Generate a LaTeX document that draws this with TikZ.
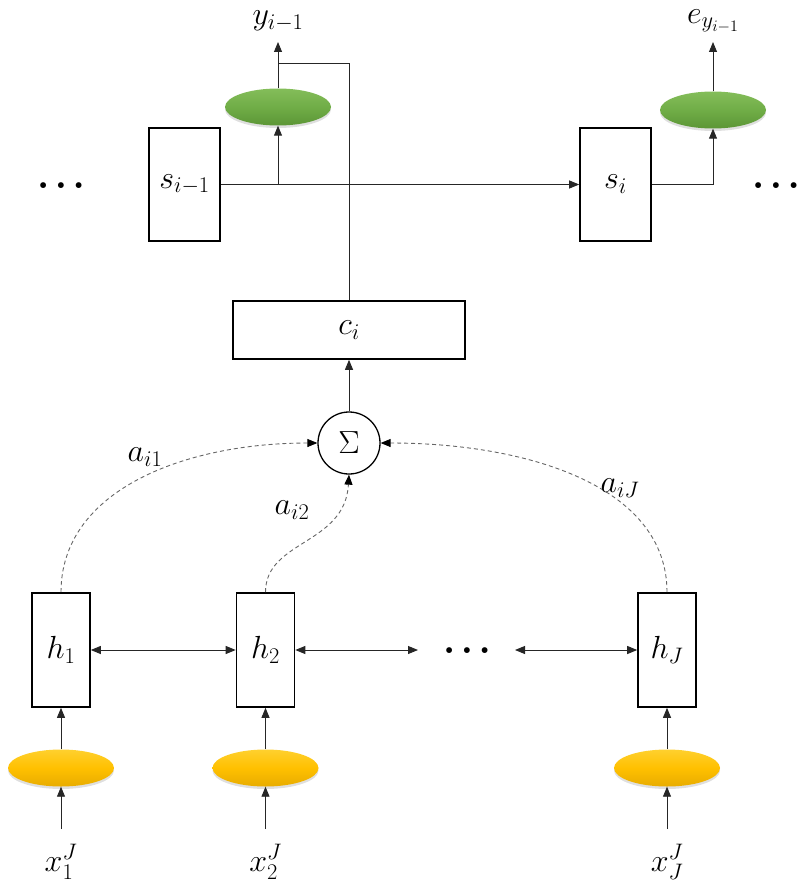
\RequirePackage{fix-cm}
\documentclass[tikz,border=0pt]{standalone}
\usetikzlibrary{arrows.meta,shapes.geometric,shadows}
\definecolor{gtop}{HTML}{84BD5A}
\definecolor{gmid}{HTML}{70AD47}
\definecolor{gbot}{HTML}{5C9636}
\definecolor{ytop}{HTML}{FFD02E}
\definecolor{ymid}{HTML}{FFC000}
\definecolor{ybot}{HTML}{E8AC00}
\begin{document}
\begin{tikzpicture}[x=1pt,y=-1pt,
  font=\fontsize{32}{36}\selectfont,
  box/.style={draw=black, line width=1.6pt, fill=white, inner sep=0pt},
  conn/.style={draw=black!85, line width=0.9pt},
  arr/.style={conn, -{Triangle[length=10pt,width=8pt]}},
  darr/.style={conn, {Triangle[length=10pt,width=8pt]}-{Triangle[length=10pt,width=8pt]}},
  dashconn/.style={draw=black!60, line width=0.9pt, dash pattern=on 4pt off 3pt, -{Triangle[length=10pt,width=8pt,color=black]}},
  ell/.style={ellipse, draw=none, minimum width=106pt, minimum height=37pt, drop shadow={shadow xshift=0pt, shadow yshift=-2.5pt, opacity=0.25}},
  greenell/.style={ell, top color=gtop, bottom color=gbot, middle color=gmid},
  yellowell/.style={ell, top color=ytop, bottom color=ybot, middle color=ymid},
  lab/.style={inner sep=0pt},
  dotsnode/.style={inner sep=0pt, font=\fontsize{26}{30}\selectfont},
]
\useasboundingbox (0,0) rectangle (801,890);

% decoder states
\node[box, minimum width=71pt, minimum height=113pt] (sprev) at (184.5,184.5) {$s_{i-1}$};
\node[box, minimum width=71pt, minimum height=113pt] (si) at (615.5,184.5) {$s_i$};
\node[greenell] (g1) at (278,107) {};
\node[greenell] (g2) at (713,110) {};
\node[lab] (ylab) at (278,21) {$y_{i-1}$};
\node[lab] (elab) at (713,21) {$e_{y_{i-1}}$};
\coordinate (yt) at (278,42);
\coordinate (et) at (713,42);
\coordinate (j1) at (278,185);
\coordinate (cturn) at (349,63);
\coordinate (cjoin) at (278,63);
\node[dotsnode] (dl) at (61,188) {\textbullet\hspace{-1pt}\textbullet\hspace{-1pt}\textbullet};
\node[dotsnode] (dr) at (776,188) {\textbullet\hspace{-1pt}\textbullet\hspace{-1pt}\textbullet};

% context
\node[box, minimum width=232pt, minimum height=58pt] (ci) at (349,330) {$c_i$};
\node[circle, draw=black, line width=1.3pt, fill=white, minimum size=62pt, inner sep=0pt] (sig) at (349,443) {$\Sigma$};

% encoder
\node[box, minimum width=58pt, minimum height=114pt] (h1) at (61,650) {$h_1$};
\node[box, minimum width=58pt, minimum height=114pt] (h2) at (265.5,650) {$h_2$};
\node[box, minimum width=58pt, minimum height=114pt] (hJ) at (667,650) {$h_J$};
\node[dotsnode] (dm) at (467,653) {\textbullet\hspace{-1pt}\textbullet\hspace{-1pt}\textbullet};
\coordinate (m1) at (418,650);
\coordinate (m2) at (515,650);

\node[yellowell] (x1e) at (61,768) {};
\node[yellowell] (x2e) at (265.5,768) {};
\node[yellowell] (xJe) at (667,768) {};
\coordinate (x1b) at (61,829);
\coordinate (x2b) at (265.5,829);
\coordinate (xJb) at (667,829);
\node[lab] (x1) at (61,862) {$x_1^J$};
\node[lab] (x2) at (265.5,862) {$x_2^J$};
\node[lab] (xJ) at (667,862) {$x_J^J$};

% connectors top
\draw[arr] (sprev.east) -- (si.west);
\draw[arr] (j1) -- (g1.south);
\draw[arr] (g1.north) -- (yt);
\draw[conn] (ci.north) -- (cturn) -- (cjoin);
\draw[arr] (si.east) -| (g2.south);
\draw[arr] (g2.north) -- (et);
\draw[arr] (sig.north) -- (ci.south);

% attention
\draw[dashconn] (h1.north) .. controls (61,490) and (185,443) .. (sig.west);
\draw[dashconn] (h2.north) .. controls (265.5,540) and (345,545) .. (sig.south);
\draw[dashconn] (hJ.north) .. controls (667,485) and (525,443) .. (sig.east);
\node[lab] (a1) at (145,457) {$a_{i1}$};
\node[lab] (a2) at (292,510) {$a_{i2}$};
\node[lab] (aJ) at (620,488) {$a_{iJ}$};

% encoder links
\draw[darr] (h1.east) -- (h2.west);
\draw[darr] (h2.east) -- (m1);
\draw[darr] (m2) -- (hJ.west);
\draw[arr] (x1e.north) -- (h1.south);
\draw[arr] (x2e.north) -- (h2.south);
\draw[arr] (xJe.north) -- (hJ.south);
\draw[arr] (x1b) -- (x1e.south);
\draw[arr] (x2b) -- (x2e.south);
\draw[arr] (xJb) -- (xJe.south);
\end{tikzpicture}
\end{document}
